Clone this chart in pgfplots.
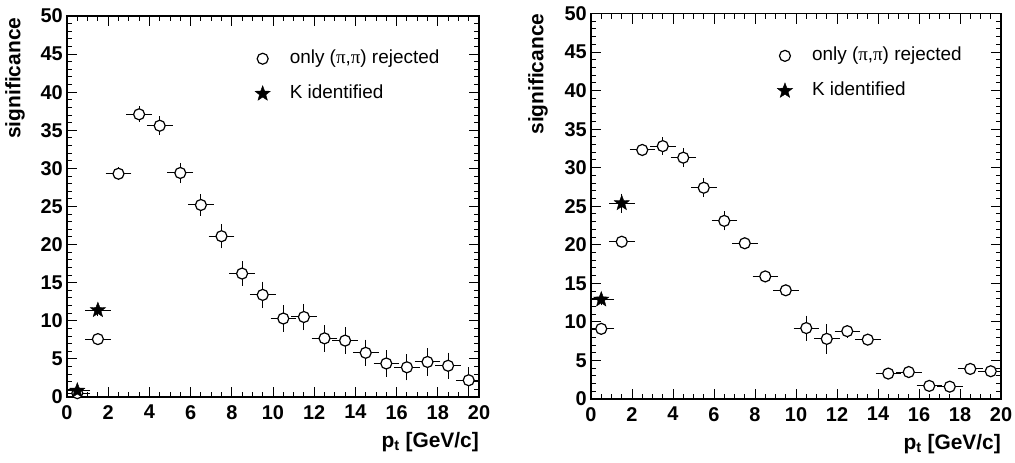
\documentclass[border=0pt]{standalone}
\usepackage{fontspec}
\setmainfont{Liberation Sans}
\newfontfamily\serifpi{Liberation Serif}
\usepackage{pgfplots}
\usepackage{pgfplotstable}
\pgfplotsset{compat=1.18}
\usetikzlibrary{plotmarks}

\pgfdeclareplotmark{fstar}{%
  \pgfpathmoveto{\pgfpointpolar{90}{\pgfplotmarksize}}%
  \pgfpathlineto{\pgfpointpolar{126}{0.42\pgfplotmarksize}}%
  \pgfpathlineto{\pgfpointpolar{162}{\pgfplotmarksize}}%
  \pgfpathlineto{\pgfpointpolar{198}{0.42\pgfplotmarksize}}%
  \pgfpathlineto{\pgfpointpolar{234}{\pgfplotmarksize}}%
  \pgfpathlineto{\pgfpointpolar{270}{0.42\pgfplotmarksize}}%
  \pgfpathlineto{\pgfpointpolar{306}{\pgfplotmarksize}}%
  \pgfpathlineto{\pgfpointpolar{342}{0.42\pgfplotmarksize}}%
  \pgfpathlineto{\pgfpointpolar{18}{\pgfplotmarksize}}%
  \pgfpathlineto{\pgfpointpolar{54}{0.42\pgfplotmarksize}}%
  \pgfpathclose
  \pgfusepathqfillstroke
}

\pgfplotstableread{
x y ey
0.5 0.5 0.3
1.5 7.6 0.4
2.5 29.3 0.5
3.5 37.1 0.7
4.5 35.6 0.9
5.5 29.4 1.0
6.5 25.2 1.1
7.5 21.1 1.25
8.5 16.2 1.3
9.5 13.4 1.4
10.5 10.3 1.4
11.5 10.5 1.4
12.5 7.7 1.4
13.5 7.4 1.4
14.5 5.8 1.4
15.5 4.4 1.4
16.5 3.9 1.4
17.5 4.6 1.5
18.5 4.1 1.4
19.5 2.2 1.4
}\leftcirc

\pgfplotstableread{
x y ey
0.5 0.83 0.3
1.5 11.4 0.5
}\leftstar

\pgfplotstableread{
x y ey
0.5 9.1 0.4
1.5 20.4 0.3
2.5 32.3 0.5
3.5 32.8 0.8
4.5 31.3 0.9
5.5 27.4 0.9
6.5 23.1 0.9
7.5 20.2 0.3
8.5 15.9 0.4
9.5 14.1 0.4
10.5 9.2 1.3
11.5 7.8 1.6
12.5 8.8 0.5
13.5 7.7 0.4
14.5 3.3 0.3
15.5 3.5 0.5
16.5 1.7 0.3
17.5 1.6 0.3
18.5 3.9 0.3
19.5 3.6 0.3
}\rightcirc

\pgfplotstableread{
x y ey
0.5 12.9 0.4
1.5 25.4 0.9
}\rightstar

\pgfplotsset{
  rootaxis/.style={
    scale only axis,
    xmin=0, xmax=20, ymin=0, ymax=50,
    xtick={0,2,...,20}, ytick={0,5,...,50},
    minor x tick num=3, minor y tick num=4,
    tick align=inside,
    major tick length=10bp, minor tick length=5bp,
    every tick/.style={black, line width=1bp},
    axis line style={black, line width=1.5bp},
    /pgf/number format/assume math mode=true,
    tick label style={font=\bfseries\fontsize{20}{20}\selectfont, inner sep=0pt},
    yticklabel shift=4bp,
    xticklabel shift=8bp,
    xlabel={p\textsubscript{t} [GeV/c]},
    ylabel={significance},
    label style={font=\bfseries\fontsize{21}{21}\selectfont, inner sep=0pt},
    xlabel style={at={(rel axis cs:1,0)}, anchor=north east, yshift=-35bp},
    legend style={draw=none, fill=none, anchor=north west, inner sep=0pt,
      font=\fontsize{19}{19}\selectfont, row sep=17bp,
      /tikz/every odd column/.append style={column sep=19.5bp},
      nodes={inner sep=0pt, text height=13.5bp, text depth=4.5bp}},
    legend cell align=left,
    legend image code/.code={\draw[mark repeat=2,mark phase=2,#1] plot coordinates {(0bp,0bp) (8bp,0bp) (16bp,0bp)};},
  },
  circ/.style={only marks, mark=*, mark size=5.5bp,
    mark options={draw=black, fill=white, line width=1.2bp},
    error bars/.cd, x dir=both, x fixed=0.5, y dir=both, y explicit,
    error bar style={line width=1bp, black},
    error mark options={line width=1bp, mark size=2.5bp, black}},
  starm/.style={only marks, mark=fstar, mark size=8bp,
    mark options={draw=black, fill=black, line width=0.4bp},
    error bars/.cd, x dir=both, x fixed=0.5, y dir=both, y explicit,
    error bar style={line width=1bp, black},
    error mark options={line width=1bp, mark size=2.5bp, black}},
}

\begin{document}
\begin{tikzpicture}
\useasboundingbox (0,0) rectangle (1015bp,-463bp);
\begin{axis}[rootaxis,
  at={(67bp,-397bp)}, anchor=south west,
  width=412bp, height=381bp,
  ylabel style={at={(rel axis cs:-0.102,0.996)}, anchor=south east},
  legend style={at={(rel axis cs:0.456,0.912)}},
]
\addplot+[circ] table[x=x, y=y, y error=ey] {\leftcirc};
\addlegendentry{only ({\serifpi π},{\serifpi π}) rejected}
\addplot+[starm] table[x=x, y=y, y error=ey] {\leftstar};
\addlegendentry{K identified}
\end{axis}
\begin{axis}[rootaxis,
  at={(591bp,-399bp)}, anchor=south west,
  width=410bp, height=385.5bp,
  ylabel style={at={(rel axis cs:-0.105,1)}, anchor=south east},
  legend style={at={(rel axis cs:0.454,0.914)}},
]
\addplot+[circ] table[x=x, y=y, y error=ey] {\rightcirc};
\addlegendentry{only ({\serifpi π},{\serifpi π}) rejected}
\addplot+[starm] table[x=x, y=y, y error=ey] {\rightstar};
\addlegendentry{K identified}
\end{axis}
\end{tikzpicture}
\end{document}
